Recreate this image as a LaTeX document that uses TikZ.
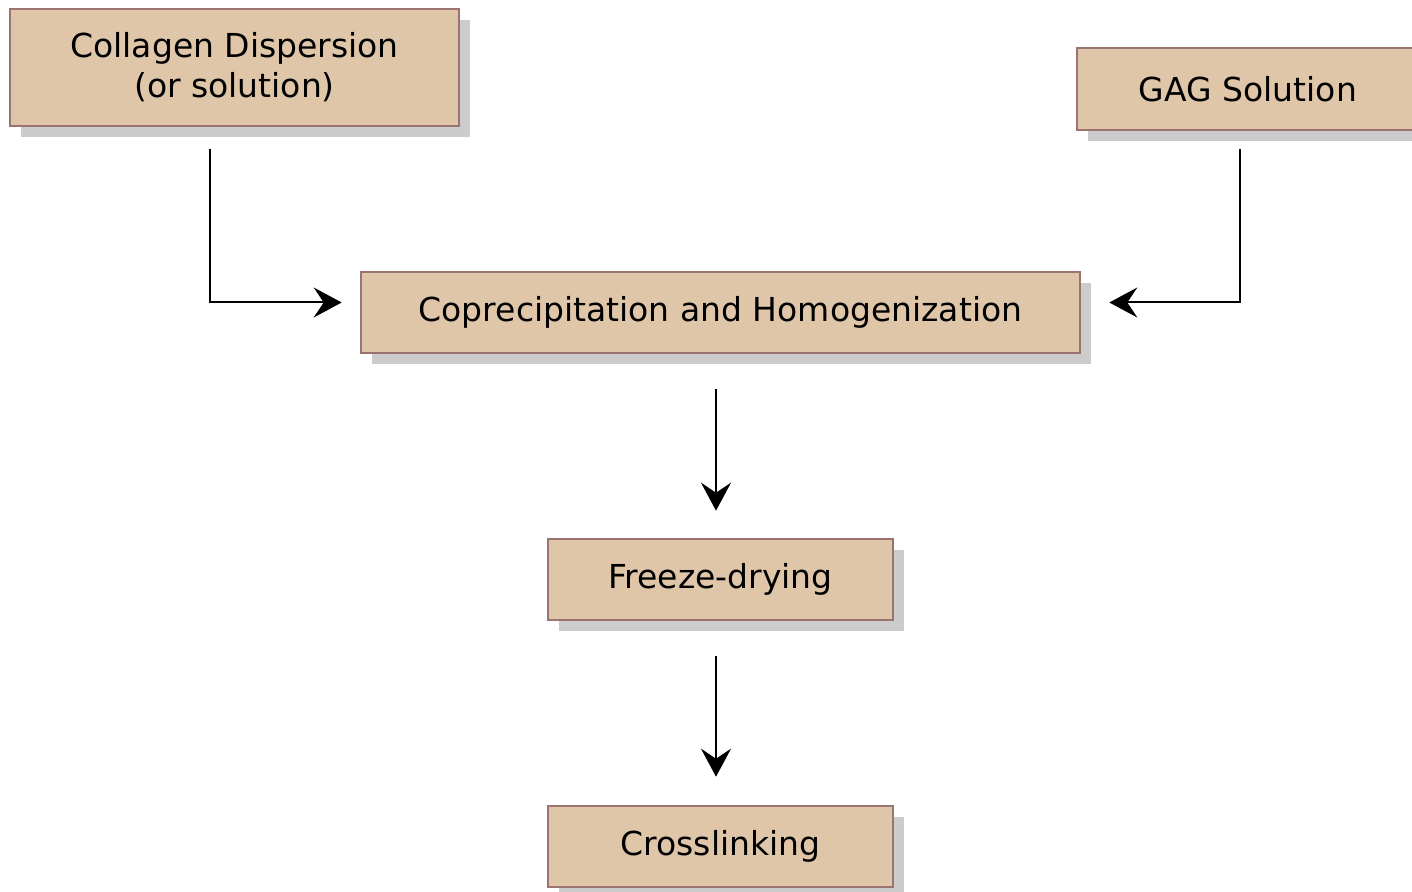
\documentclass[tikz,border=0pt]{standalone}
\usepackage{fontspec}
\setmainfont{DejaVu Sans}
\usepackage{xcolor}
\usetikzlibrary{positioning, calc, arrows.meta, shadows}
\definecolor{boxfill}{RGB}{223,198,168}
\definecolor{boxedge}{RGB}{155,115,112}
\tikzset{
  stepbox/.style={draw=boxedge,fill=boxfill,line width=1.3pt,align=center,
    inner sep=0pt,font=\fontsize{16.5}{20}\selectfont,
    drop shadow={shadow xshift=5.5pt,shadow yshift=-5.5pt,fill=black!20,opacity=1}},
  flow/.style={-{Stealth[length=14pt,width=15pt,inset=5pt]},line width=1pt}
}
\begin{document}
\begin{tikzpicture}[x=0.5pt,y=-0.5pt]
  \useasboundingbox(0,0)rectangle(1412,892);
  \node[stepbox,minimum width=224.5pt,minimum height=58.5pt](col)at(234.5,67.5){Collagen Dispersion\\(or solution)};
  \node[stepbox,minimum width=171pt,minimum height=41pt](gag)at(1248,89){GAG Solution};
  \node[stepbox,minimum width=359.5pt,minimum height=40.5pt](cop)at(720.5,312.5){Coprecipitation and Homogenization};
  \node[stepbox,minimum width=172.5pt,minimum height=40.5pt](frz)at(720.5,579.5){Freeze-drying};
  \node[stepbox,minimum width=172.5pt,minimum height=40.5pt](crs)at(720.5,846.5){Crosslinking};
  % inputs
  \draw[flow]([xshift=-12.25pt,yshift=-11pt]col.south)|-([xshift=-9pt,yshift=5pt]cop.west);
  \draw[flow]([xshift=-4pt,yshift=-9pt]gag.south)|-([xshift=14pt,yshift=5pt]cop.east);
  % process chain
  \draw[flow]([xshift=-2.25pt,yshift=-17.5pt]cop.south)--([xshift=-2.25pt,yshift=13.5pt]frz.north);
  \draw[flow]([xshift=-2.25pt,yshift=-17.5pt]frz.south)--([xshift=-2.25pt,yshift=14pt]crs.north);
\end{tikzpicture}
\end{document}
